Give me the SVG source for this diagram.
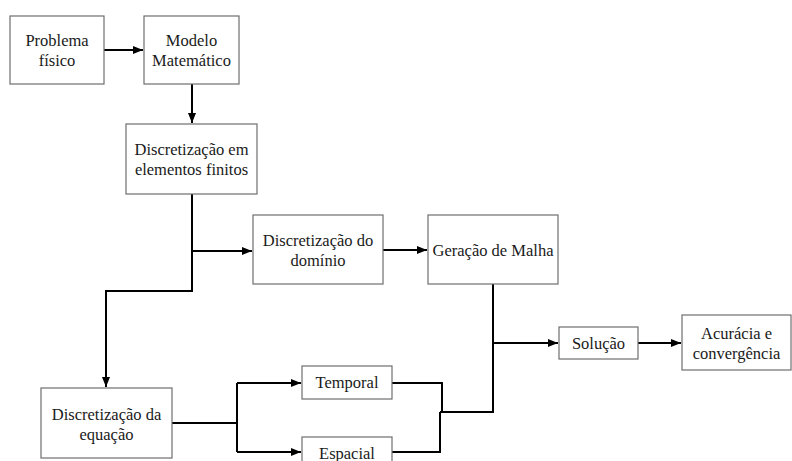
<svg xmlns="http://www.w3.org/2000/svg" width="792" height="461" viewBox="0 0 792 461">
<style>
.box{fill:#fff;stroke:#6e6e6e;stroke-width:1.2}
.t{font-family:'Liberation Serif','Times New Roman',serif;font-size:16.5px;fill:#1a1a1a;text-anchor:middle}
.c{fill:none;stroke:#000;stroke-width:2}
</style>
<defs>
<marker id="ah" markerWidth="10" markerHeight="8" refX="10" refY="4" orient="auto" markerUnits="userSpaceOnUse">
<path d="M0,0 L10,4 L0,8 Z" fill="#000"/>
</marker>
</defs>
<rect width="792" height="461" fill="#fff"/>
<g id="connectors">
<path class="c" d="M104,50 H143" marker-end="url(#ah)"/>
<path class="c" d="M192,84 V123" marker-end="url(#ah)"/>
<path class="c" d="M192,194 V291 H106 V387" marker-end="url(#ah)"/>
<path class="c" d="M192,251 H252" marker-end="url(#ah)"/>
<path class="c" d="M383,250 H427" marker-end="url(#ah)"/>
<path class="c" d="M493,284 V412 H440"/>
<path class="c" d="M493,343 H558" marker-end="url(#ah)"/>
<path class="c" d="M638,343 H681" marker-end="url(#ah)"/>
<path class="c" d="M172,423 H237"/>
<path class="c" d="M237,383 V452"/>
<path class="c" d="M237,383 H301" marker-end="url(#ah)"/>
<path class="c" d="M237,452 H301" marker-end="url(#ah)"/>
<path class="c" d="M392,383 H442 V412"/>
<path class="c" d="M392,452 H440 V412"/>
</g>
<g id="problema">
<rect class="box" x="10" y="16" width="94" height="68"/>
<text class="t" x="57" y="46">Problema</text>
<text class="t" x="57" y="66">físico</text>
</g>
<g id="modelo">
<rect class="box" x="144" y="16" width="95" height="68"/>
<text class="t" x="191.5" y="46">Modelo</text>
<text class="t" x="191.5" y="66">Matemático</text>
</g>
<g id="discr-fem">
<rect class="box" x="126" y="124" width="131" height="70"/>
<text class="t" x="191.5" y="155">Discretização em</text>
<text class="t" x="191.5" y="175">elementos finitos</text>
</g>
<g id="discr-dominio">
<rect class="box" x="253" y="215" width="130" height="69"/>
<text class="t" x="318" y="246">Discretização do</text>
<text class="t" x="318" y="266">domínio</text>
</g>
<g id="malha">
<rect class="box" x="428" y="215" width="130" height="69"/>
<text class="t" x="493" y="256">Geração de Malha</text>
</g>
<g id="solucao">
<rect class="box" x="559" y="327" width="79" height="32"/>
<text class="t" x="598.5" y="349">Solução</text>
</g>
<g id="acuracia">
<rect class="box" x="682" y="315" width="109" height="55"/>
<text class="t" x="736.5" y="339">Acurácia e</text>
<text class="t" x="736.5" y="359">convergência</text>
</g>
<g id="discr-equacao">
<rect class="box" x="41" y="388" width="131" height="70"/>
<text class="t" x="106.5" y="420">Discretização da</text>
<text class="t" x="106.5" y="440">equação</text>
</g>
<g id="temporal">
<rect class="box" x="302" y="366" width="90" height="33"/>
<text class="t" x="347" y="388">Temporal</text>
</g>
<g id="espacial">
<rect class="box" x="302" y="437" width="90" height="33"/>
<text class="t" x="347" y="459">Espacial</text>
</g>
</svg>
